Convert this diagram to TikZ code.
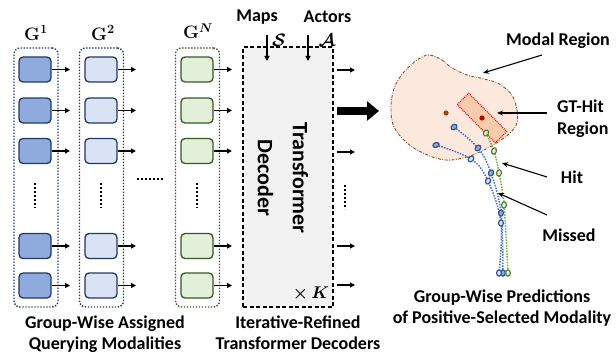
\documentclass[tikz,border=0pt]{standalone}
\usepackage{fix-cm}
\usepackage[no-math]{fontspec}
\setmainfont{Carlito}
\usepackage{bm}
\usetikzlibrary{arrows.meta}
\definecolor{navy}{HTML}{203864}
\definecolor{dgreen}{HTML}{385723}
\definecolor{blueA}{HTML}{8FAADC}
\definecolor{blueB}{HTML}{DAE3F3}
\definecolor{greenB}{HTML}{E2F0D9}
\definecolor{decfill}{HTML}{F2F2F2}
\definecolor{blobfill}{HTML}{FCE8DC}
\definecolor{blobline}{HTML}{9C4A1A}
\definecolor{gtfill}{HTML}{F8CBAD}
\definecolor{trblue}{HTML}{4472C4}
\definecolor{trgreen}{HTML}{70AD47}
\definecolor{mkblue}{HTML}{2F5597}
\definecolor{mkgreen}{HTML}{548235}
\definecolor{browndot}{HTML}{9E480E}
\definecolor{reddot}{HTML}{C00000}
\begin{document}
\begin{tikzpicture}[x=1pt,y=-1pt,
  txt/.style={font=\bfseries\fontsize{18}{21}\selectfont, inner sep=0pt, align=center},
  mth/.style={font=\boldmath\fontsize{18}{20}\selectfont, inner sep=0pt},
  qbox/.style={draw, rounded corners=4pt, line width=1.3pt, minimum width=32pt, minimum height=25pt, inner sep=0pt},
  grp/.style={rounded corners=6pt, line width=1.4pt, dash pattern=on 1.4pt off 1.6pt, minimum width=44pt, minimum height=259pt, inner sep=0pt},
  arr/.style={line width=1.2pt, -{Triangle[length=5pt,width=5pt]}},
  larr/.style={line width=1.1pt, -{Stealth[length=6pt,width=5pt]}},
  dotsv/.style={line width=2.2pt, dash pattern=on 2pt off 2pt},
  traj/.style={line width=1.5pt, dash pattern=on 1.5pt off 1.3pt},
  mkb/.style={draw=mkblue, line width=1.2pt},
  mkg/.style={draw=mkgreen, line width=1.2pt, fill=greenB}
]
\useasboundingbox (0,0) rectangle (616,353);

% groups
\node[grp, draw=navy] (grp1) at (36,177.5) {};
\node[grp, draw=navy] (grp2) at (101.5,177.5) {};
\node[grp, draw=dgreen] (grpn) at (197.5,177.5) {};

\foreach \g/\x/\fc/\dc in {a/35/blueA/navy, b/101/blueB/navy, n/197/greenB/dgreen}{
  \foreach \r/\y in {1/69.5,2/110.5,3/151,4/246,5/285.5}{
    \node[qbox, fill=\fc, draw=\dc] (\g\r) at (\x,\y) {};
    \coordinate (\g\r o) at (\x+35,\y);
    \draw[arr] (\g\r.east) -- (\g\r o);
  }
  \coordinate (\g dt) at (\x,183);
  \coordinate (\g db) at (\x,208);
  \draw[dotsv] (\g dt) -- (\g db);
}
\coordinate (hdl) at (137,179);
\coordinate (hdr) at (163,179);
\draw[dotsv] (hdl) -- (hdr);

% group labels
\node[mth] (lg1) at (36,33) {$\mathbf{G}^{\mathbf{1}}$};
\node[mth] (lg2) at (103,33) {$\mathbf{G}^{\mathbf{2}}$};
\node[mth] (lgn) at (198,31) {$\mathbf{G}^{N}$};

% decoder
\node[draw, fill=decfill, line width=1.3pt, dash pattern=on 4pt off 2.5pt, minimum width=90pt, minimum height=260pt, inner sep=0pt] (dec) at (288,177) {};
\node[rotate=-90, font=\bfseries\fontsize{22}{35}\selectfont, align=center, inner sep=0pt] (dectxt) at (283,178) {Transformer\\Decoder};
\node[inner sep=0pt, font=\boldmath\fontsize{17}{18}\selectfont] (timesk) at (311,294) {$\times\,K$};

\node[txt] (maps) at (257,17) {Maps};
\node[txt] (actors) at (327.5,17) {Actors};
\node[mth] (symS) at (279,40) {$\mathcal{S}$};
\node[mth] (symA) at (327,40) {$\mathcal{A}$};
\coordinate (mapsT) at (267,35);
\coordinate (mapsB) at (267,61);
\coordinate (actT) at (308,35);
\coordinate (actB) at (308,61);
\draw[arr] (mapsT) -- (mapsB);
\draw[arr] (actT) -- (actB);

% outputs of decoder
\foreach \r/\y in {1/70,3/152,4/246,5/285}{
  \coordinate (o\r s) at (337,\y);
  \coordinate (o\r e) at (355,\y);
  \draw[arr] (o\r s) -- (o\r e);
}
\coordinate (odt) at (345,185);
\coordinate (odb) at (345,209);
\draw[dotsv] (odt) -- (odb);

% big arrow
\coordinate (bigS) at (337,111);
\coordinate (bigE) at (379,111);
\draw[line width=8pt, -{Triangle[length=12pt,width=19pt]}] (bigS) -- (bigE);

% modal region blob
\draw[draw=blobline, fill=blobfill, line width=0.9pt, dash pattern=on 3pt off 1.5pt on 0.8pt off 1.5pt]
  plot[smooth cycle, tension=0.6] coordinates {(430,55) (442,60) (452,68) (467,75) (480,78) (495,82) (505,88) (513,97) (517,110) (517,123) (510,133) (498,142) (480,152) (463,158) (445,160) (425,154) (407,143) (394,127) (391,110) (393,92) (400,77) (412,64) (422,57)};

% GT-hit region
\draw[draw=red, fill=gtfill, line width=1pt, dash pattern=on 1pt off 1pt]
  (457.2,104.6) -- (468.6,93.2) -- (506.8,131.4) -- (495.4,142.8) -- cycle;
\fill[browndot] (446,113) circle (2.6);
\fill[reddot] (482,118) circle (2.6);

% trajectories
\draw[traj, trblue] plot[smooth, tension=0.6] coordinates {(454,127) (478,148) (491,173) (501,213) (503,273)};
\draw[traj, trblue] plot[smooth, tension=0.6] coordinates {(436,145) (471,159) (488,181) (501,223) (499,273)};
\draw[traj, trgreen] plot[smooth, tension=0.6] coordinates {(486,133) (494,151) (499,173) (504,205) (508,273)};
\foreach \p/\a in {(454,127)/40,(478,148)/50,(491,173)/65,(501,213)/85,(503,273)/90,(436,145)/20}{
  \draw[mkb, fill=blueA, rotate around={\a:\p}] \p ellipse (3.2 and 2.4);
}
\foreach \p/\a in {(471,159)/45,(488,181)/65,(501,223)/90,(499,273)/90}{
  \draw[mkb, fill=blueB, rotate around={\a:\p}] \p ellipse (3.2 and 2.4);
}
\foreach \p/\a in {(486,133)/65,(494,151)/75,(499,173)/80,(504,205)/85,(508,273)/90}{
  \draw[mkg, rotate around={\a:\p}] \p ellipse (3.2 and 2.4);
}

% right labels
\node[txt] (lmodal) at (558,41) {Modal Region};
\node[txt, anchor=west, align=left, font=\bfseries\fontsize{18}{22}\selectfont] (lgt) at (557,119) {GT-Hit\\Region};
\node[txt] (lhit) at (572,177) {Hit};
\node[txt] (lmiss) at (569,235) {Missed};
\coordinate (amS) at (542,55);  \coordinate (amE) at (483,73);
\coordinate (agS) at (547,113); \coordinate (agE) at (497,113);
\coordinate (ahS) at (547,177); \coordinate (ahE) at (502,163);
\coordinate (axS) at (547,215); \coordinate (axE) at (498,193);
\draw[larr] (amS) -- (amE);
\draw[larr] (agS) -- (agE);
\draw[larr] (ahS) -- (ahE);
\draw[larr] (axS) -- (axE);

% captions
\node[txt] (capq) at (105,334) {Group-Wise Assigned\\Querying Modalities};
\node[txt] (capd) at (298,333) {Iterative-Refined\\Transformer Decoders};
\node[txt] (capp) at (502,308) {Group-Wise Predictions\\of Positive-Selected Modality};
\end{tikzpicture}
\end{document}
